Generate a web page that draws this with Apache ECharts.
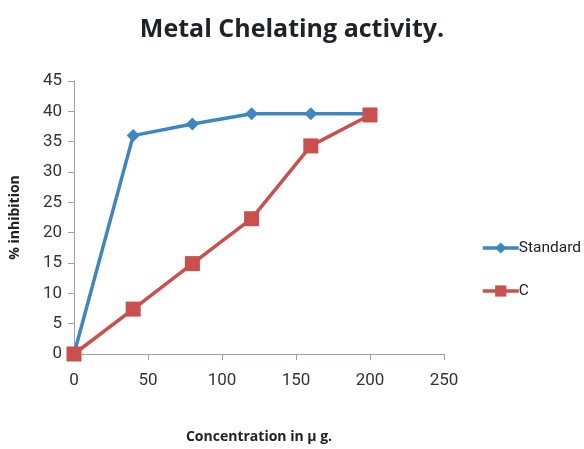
<!DOCTYPE html>
<html><head><meta charset="utf-8">
<script src="https://cdn.jsdelivr.net/npm/echarts@6/dist/echarts.min.js"></script>
<style>html,body{margin:0;padding:0;background:#fff}#c{width:584px;height:449px}</style>
</head><body><div id="c"></div>
<script>
const concentrations = [0, 40, 80, 120, 160, 200];
const standardValues = [0, 36.0, 37.9, 39.6, 39.6, 39.6];
const cValues = [0, 7.4, 14.9, 22.3, 34.3, 39.4];
const xTicks = [0, 50, 100, 150, 200, 250];
const yTicks = [0, 5, 10, 15, 20, 25, 30, 35, 40, 45];

const font = '"Open Sans", "Liberation Sans", sans-serif';
const narrow = 'Roboto, "Open Sans", sans-serif';
const chart = echarts.init(document.getElementById('c'), null, {renderer: 'canvas'});
chart.setOption({
  animation: false,
  backgroundColor: '#fff',
  title: {
    text: 'Metal Chelating activity.',
    left: 'center', top: 12,
    textStyle: {fontFamily: font, fontSize: 25, fontWeight: 'bold', color: '#1f2329'}
  },
  legend: {
    orient: 'vertical', left: 481, top: 240, itemGap: 25, padding: 0,
    itemWidth: 36, itemHeight: 14, itemGap: 27,
    lineStyle: {width: 3.5},
    textStyle: {fontFamily: narrow, fontSize: 15.5, color: '#222', padding: [0, 0, 0, -5]},
    data: ['Standard', 'C']
  },
  grid: {left: 74, right: 140, top: 81, bottom: 94, containLabel: false},
  xAxis: {
    type: 'value', min: xTicks[0], max: xTicks[xTicks.length - 1], interval: 50,
    name: 'Concentration in µ g.', nameLocation: 'middle', nameGap: 76,
    nameTextStyle: {fontFamily: font, fontSize: 14, fontWeight: 'bold', color: '#222'},
    axisLine: {lineStyle: {color: '#9aa3ad', width: 1}},
    axisTick: {show: true, inside: false, length: 6, lineStyle: {color: '#9aa3ad'}},
    axisLabel: {fontFamily: narrow, fontSize: 17, color: '#333', margin: 18},
    splitLine: {show: false}
  },
  yAxis: {
    type: 'value', min: yTicks[0], max: yTicks[yTicks.length - 1], interval: 5,
    name: '% inhibition', nameLocation: 'middle', nameGap: 52, nameRotate: 90,
    nameTextStyle: {fontFamily: font, fontSize: 14, fontWeight: 'bold', color: '#222'},
    axisLine: {show: true, lineStyle: {color: '#9aa3ad', width: 1}},
    axisTick: {show: true, inside: false, length: 6, lineStyle: {color: '#9aa3ad'}},
    axisLabel: {fontFamily: narrow, fontSize: 17, color: '#333', margin: 12},
    splitLine: {show: false}
  },
  series: [
    {
      name: 'Standard', type: 'line',
      data: concentrations.map((x, i) => [x, standardValues[i]]),
      symbol: 'diamond', symbolSize: 13,
      lineStyle: {color: '#3c87c2', width: 3.5},
      itemStyle: {color: '#3c87c2'},
      z: 2
    },
    {
      name: 'C', type: 'line',
      data: concentrations.map((x, i) => [x, cValues[i]]),
      symbol: 'rect', symbolSize: 15,
      lineStyle: {color: '#c9504c', width: 3.5},
      itemStyle: {color: '#c9504c'},
      z: 3
    }
  ]
});
</script>
</body></html>
